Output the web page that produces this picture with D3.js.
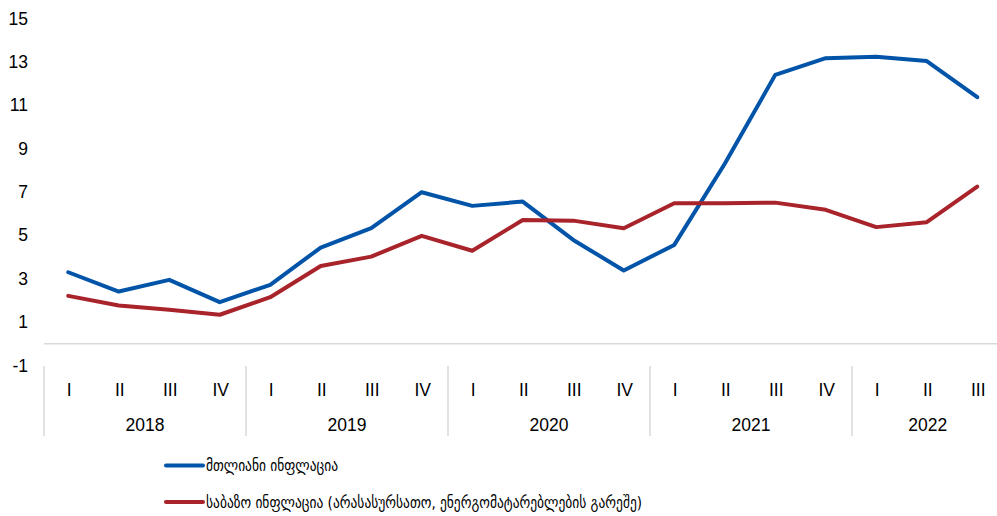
<!DOCTYPE html>
<html>
<head>
<meta charset="utf-8">
<script src="https://cdn.jsdelivr.net/npm/d3@7"></script>
<style>
  html, body { margin: 0; padding: 0; background: #fff; }
  svg { display: block; font-family: "Liberation Sans", Arial, "DejaVu Sans", sans-serif; }
</style>
</head>
<body>
<svg id="chart" width="997" height="516"></svg>
<script>
const years = ["2018", "2019", "2020", "2021", "2022"];
const quarters = ["I", "II", "III", "IV"];
const categories = [
  "2018 I","2018 II","2018 III","2018 IV",
  "2019 I","2019 II","2019 III","2019 IV",
  "2020 I","2020 II","2020 III","2020 IV",
  "2021 I","2021 II","2021 III","2021 IV",
  "2022 I","2022 II","2022 III"
];
const headline = [3.30, 2.41, 2.95, 1.92, 2.72, 4.44, 5.33, 6.99, 6.36, 6.56, 4.79, 3.38, 4.56, 8.3, 12.4, 13.17, 13.24, 13.04, 11.37];
const core = [2.21, 1.77, 1.57, 1.34, 2.15, 3.59, 4.02, 4.98, 4.29, 5.71, 5.68, 5.33, 6.48, 6.48, 6.51, 6.18, 5.38, 5.61, 7.25];
const yTicks = [-1, 1, 3, 5, 7, 9, 11, 13, 15];
const seriesNames = ["მთლიანი ინფლაცია", "საბაზო ინფლაცია (არასასურსათო, ენერგომატარებლების გარეშე)"];
const colors = ["#0254a8", "#a8232a"];

const svg = d3.select("#chart");
const x = d3.scaleBand().domain(categories).range([44, 44 + 19 * 50.5]).padding(0);
const y = d3.scaleLinear().domain([-1, 15]).range([365.5, 18.5]);
const FS = 17.5;

// y tick labels
const yAxis = d3.axisLeft(y).tickValues(yTicks).tickSize(0).tickPadding(0).tickFormat(d => String(d));
const gy = svg.append("g").attr("transform", "translate(28,0)").call(yAxis);
gy.select(".domain").remove();
gy.attr("font-family", null).attr("font-size", null);
gy.selectAll("text").attr("font-size", FS).attr("fill", "#000");

// zero axis line
svg.append("line").attr("x1", 44).attr("x2", 997).attr("y1", y(0)).attr("y2", y(0))
  .attr("stroke", "#d9d9d9").attr("stroke-width", 1.5);

// quarter labels via axis
const xAxis = d3.axisBottom(x).tickSize(0).tickPadding(0).tickFormat(d => d.split(" ")[1]);
const gx = svg.append("g").attr("transform", "translate(0,381)").call(xAxis);
gx.select(".domain").remove();
gx.attr("font-family", null).attr("font-size", null);
gx.selectAll("text").attr("font-size", FS).attr("fill", "#000").attr("dy", "0.35em").attr("y", 9);

// year separators and labels
const sepX = years.map(yr => x(yr + " I"));
svg.append("g").selectAll("line").data(sepX).join("line")
  .attr("x1", d => d).attr("x2", d => d).attr("y1", 366).attr("y2", 436)
  .attr("stroke", "#d9d9d9").attr("stroke-width", 1.5);
svg.append("g").selectAll("text").data(years).join("text")
  .attr("x", yr => {
    const qs = categories.filter(c => c.startsWith(yr));
    return (x(qs[0]) + x(qs[qs.length - 1]) + x.bandwidth()) / 2;
  })
  .attr("y", 425).attr("dy", "0.35em").attr("text-anchor", "middle")
  .attr("font-size", FS).attr("fill", "#000").text(d => d);

// lines
const line = d3.line().x((d, i) => x(categories[i]) + x.bandwidth() / 2 - 1).y(d => y(d));
[headline, core].forEach((s, k) => {
  svg.append("path").datum(s).attr("d", line).attr("fill", "none")
    .attr("stroke", colors[k]).attr("stroke-width", 4).attr("stroke-linejoin", "round").attr("stroke-linecap", "round");
});

// legend
const legY = [465.5, 502];
const legW = [132, 436];
seriesNames.forEach((name, k) => {
  svg.append("line").attr("x1", 166).attr("x2", 203).attr("y1", legY[k]).attr("y2", legY[k])
    .attr("stroke", colors[k]).attr("stroke-width", 4).attr("stroke-linecap", "round");
  svg.append("text").attr("x", 206).attr("y", legY[k]).attr("dy", "0.35em")
    .attr("font-family", "'DejaVu Sans Condensed', 'DejaVu Sans', sans-serif")
    .attr("font-size", 16).attr("fill", "#000")
    .attr("textLength", legW[k]).attr("lengthAdjust", "spacingAndGlyphs")
    .text(name);
});
</script>
</body>
</html>
